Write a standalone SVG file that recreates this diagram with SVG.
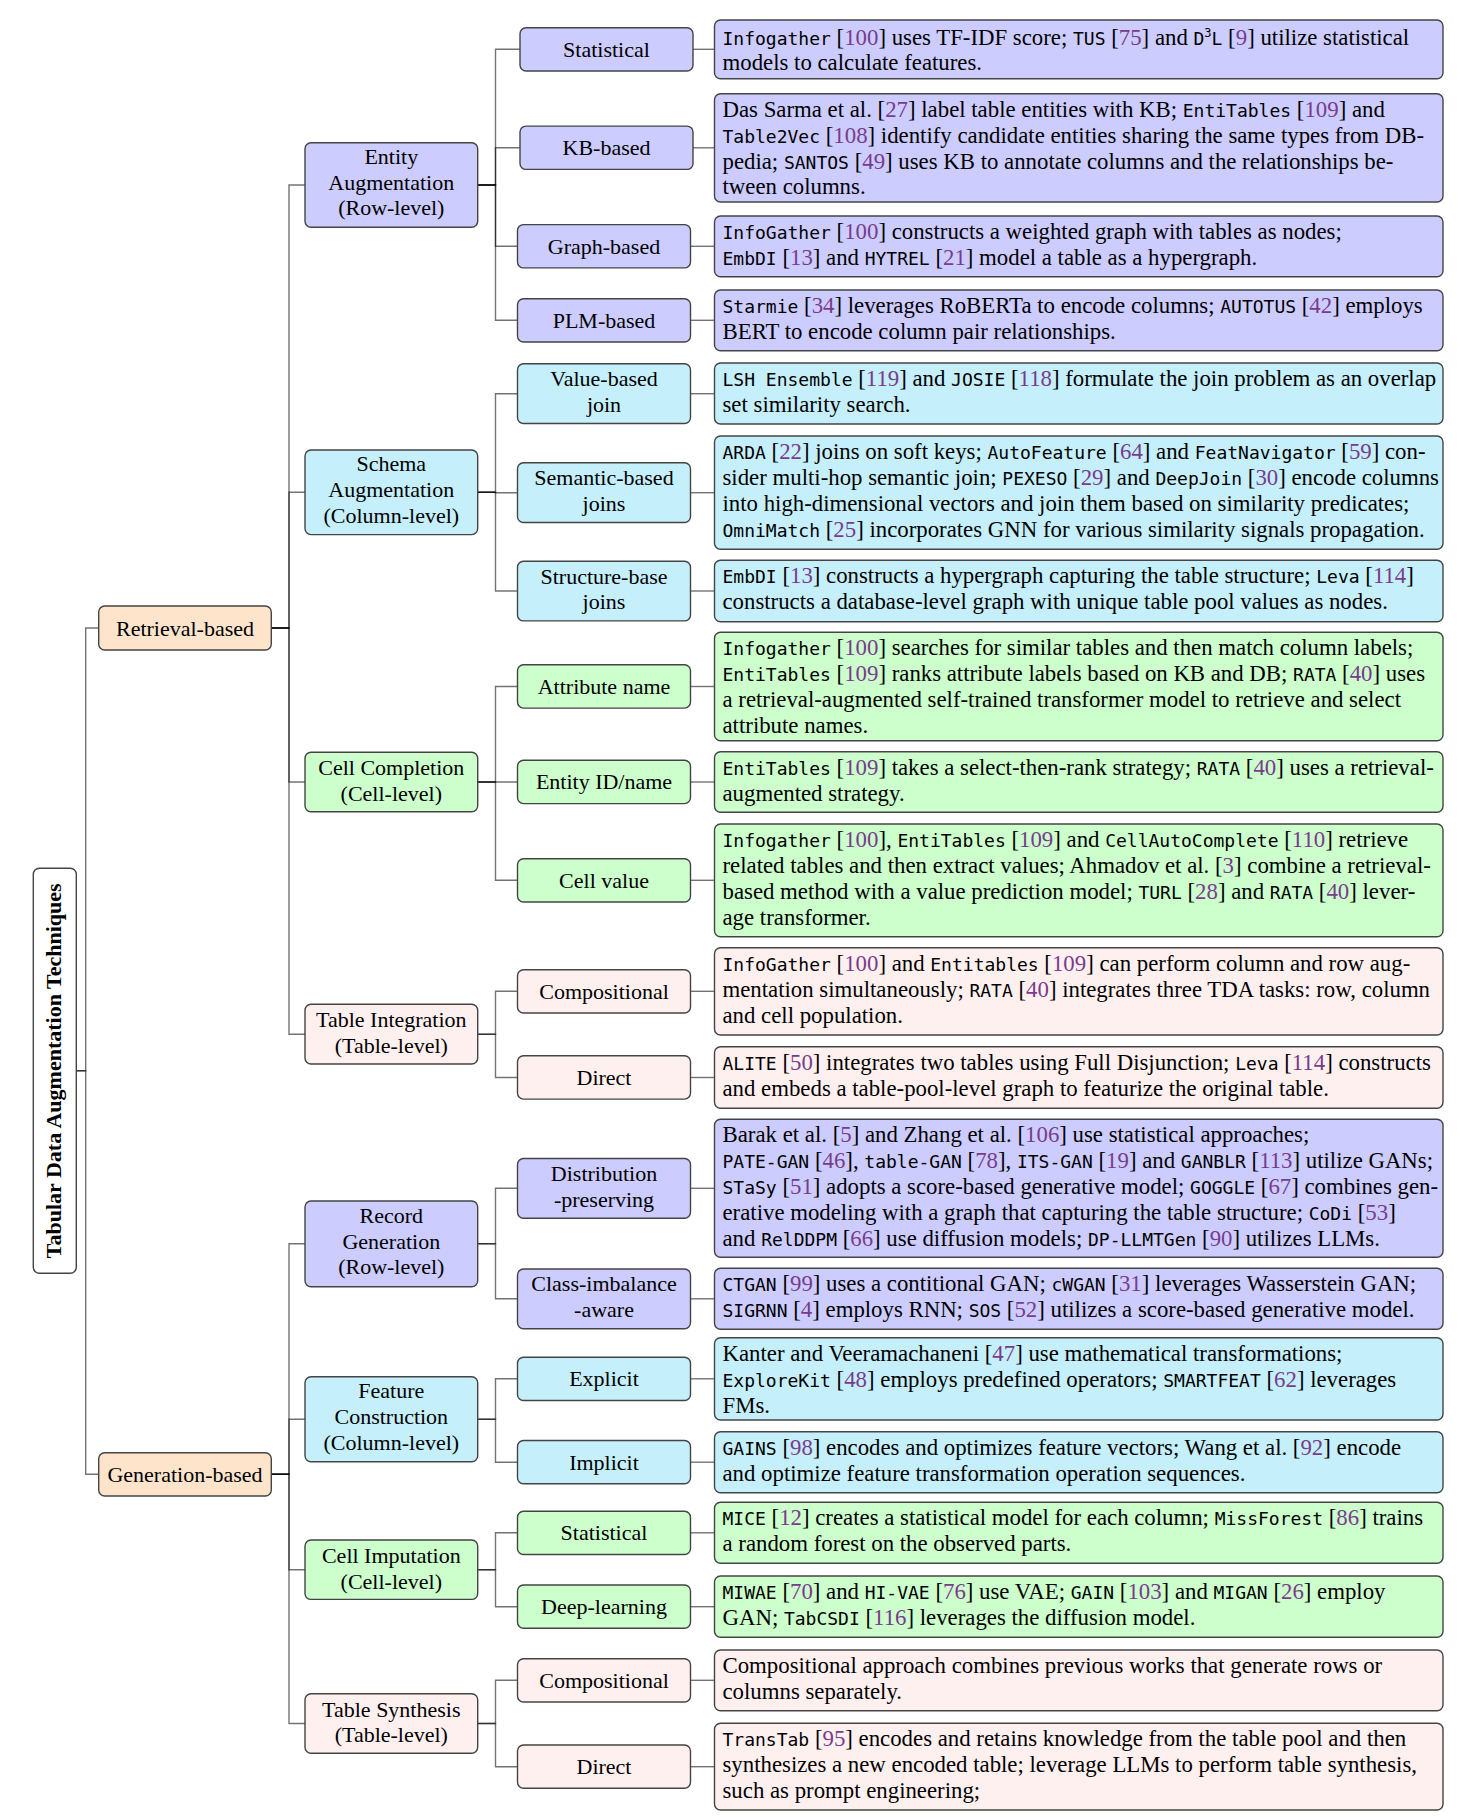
<svg xmlns="http://www.w3.org/2000/svg" width="1463" height="1817" viewBox="0 0 1463 1817">
<style>
text{font-family:"Liberation Serif","Times New Roman",serif;font-size:22px;fill:#000}
g.desc text{font-size:22.8px}
.lbl{text-anchor:middle}
.m{font-family:"DejaVu Sans Mono","Liberation Mono",monospace;font-size:18px}
.c{fill:#783c8c}
.sup{font-size:12px}
rect{stroke:#444;stroke-width:1.4}
.pu{fill:#ccccff}.cy{fill:#c5effb}.gr{fill:#ccffcc}.pk{fill:#fff0f0}.or{fill:#ffe4cc}.wh{fill:#fff}
#connectors path{fill:none;stroke:#000;stroke-opacity:0.55;stroke-width:1.4}
</style>
<rect width="1463" height="1817" style="fill:#fff;stroke:none"/>
<g id="connectors">
<path d="M76.3,1070.8H85.7V628H98.7"/>
<path d="M76.3,1070.8H85.7V1474.3H98.7"/>
<path d="M271.3,628H289V185H305"/>
<path d="M271.3,628H289V492.3H305"/>
<path d="M271.3,628H289V782H305"/>
<path d="M271.3,628H289V1034.2H305"/>
<path d="M271.3,1474.3H289V1243.8H305"/>
<path d="M271.3,1474.3H289V1419.2H305"/>
<path d="M271.3,1474.3H289V1569.7H305"/>
<path d="M271.3,1474.3H289V1723.5H305"/>
<path d="M477.7,185H495.5V49.3H520"/>
<path d="M477.7,185H495.5V147.8H520"/>
<path d="M477.7,185H495.5V246.3H517.5"/>
<path d="M477.7,185H495.5V320.3H517.5"/>
<path d="M477.7,492.3H495.5V393.7H517.5"/>
<path d="M477.7,492.3H495.5V492.7H517.5"/>
<path d="M477.7,492.3H495.5V591H517.5"/>
<path d="M477.7,782H495.5V686.5H517.5"/>
<path d="M477.7,782H495.5V782H517.5"/>
<path d="M477.7,782H495.5V880.3H517.5"/>
<path d="M477.7,1034.2H495.5V991.3H517.5"/>
<path d="M477.7,1034.2H495.5V1077.5H517.5"/>
<path d="M477.7,1243.8H495.5V1188.3H517.5"/>
<path d="M477.7,1243.8H495.5V1298.8H517.5"/>
<path d="M477.7,1419.2H495.5V1378.8H517.5"/>
<path d="M477.7,1419.2H495.5V1462.2H517.5"/>
<path d="M477.7,1569.7H495.5V1532.8H517.5"/>
<path d="M477.7,1569.7H495.5V1606.7H517.5"/>
<path d="M477.7,1723.5H495.5V1680.3H517.5"/>
<path d="M477.7,1723.5H495.5V1766.7H517.5"/>
<path d="M693,49.3H714.5"/>
<path d="M693,147.8H714.5"/>
<path d="M690.5,246.3H714.5"/>
<path d="M690.5,320.3H714.5"/>
<path d="M690.5,393.7H714.5"/>
<path d="M690.5,492.7H714.5"/>
<path d="M690.5,591H714.5"/>
<path d="M690.5,686.5H714.5"/>
<path d="M690.5,782H714.5"/>
<path d="M690.5,880.3H714.5"/>
<path d="M690.5,991.3H714.5"/>
<path d="M690.5,1077.5H714.5"/>
<path d="M690.5,1188.3H714.5"/>
<path d="M690.5,1298.8H714.5"/>
<path d="M690.5,1378.8H714.5"/>
<path d="M690.5,1462.2H714.5"/>
<path d="M690.5,1532.8H714.5"/>
<path d="M690.5,1606.7H714.5"/>
<path d="M690.5,1680.3H714.5"/>
<path d="M690.5,1766.7H714.5"/>
</g>

<g id="root"><rect class="wh" x="33.3" y="868.3" width="43" height="405" rx="6"/><text class="lbl" style="font-weight:bold" transform="translate(61,1070.8) rotate(-90)">Tabular Data Augmentation Techniques</text></g>

<g id="retrieval"><rect class="or" x="98.7" y="606" width="172.6" height="44" rx="6"/><text class="lbl" x="185" y="636">Retrieval-based</text></g>
<g id="generation"><rect class="or" x="98.7" y="1452.7" width="172.6" height="43.3" rx="6"/><text class="lbl" x="185" y="1482">Generation-based</text></g>

<g id="entity-aug"><rect class="pu" x="305" y="142.7" width="172.7" height="84.6" rx="6"/><text class="lbl" x="391.3" y="164">Entity</text><text class="lbl" x="391.3" y="189.7">Augmentation</text><text class="lbl" x="391.3" y="215.4">(Row-level)</text></g>
<g id="schema-aug"><rect class="cy" x="305" y="450" width="172.7" height="84.6" rx="6"/><text class="lbl" x="391.3" y="471.3">Schema</text><text class="lbl" x="391.3" y="497">Augmentation</text><text class="lbl" x="391.3" y="522.7">(Column-level)</text></g>
<g id="cell-completion"><rect class="gr" x="305" y="752.3" width="172.7" height="59.4" rx="6"/><text class="lbl" x="391.3" y="775">Cell Completion</text><text class="lbl" x="391.3" y="800.9">(Cell-level)</text></g>
<g id="table-integration"><rect class="pk" x="305" y="1004.3" width="172.7" height="59.7" rx="6"/><text class="lbl" x="391.3" y="1027.2">Table Integration</text><text class="lbl" x="391.3" y="1053.1">(Table-level)</text></g>
<g id="record-generation"><rect class="pu" x="305" y="1201" width="172.7" height="85.7" rx="6"/><text class="lbl" x="391.3" y="1222.8">Record</text><text class="lbl" x="391.3" y="1248.5">Generation</text><text class="lbl" x="391.3" y="1274.2">(Row-level)</text></g>
<g id="feature-construction"><rect class="cy" x="305" y="1376.7" width="172.7" height="85" rx="6"/><text class="lbl" x="391.3" y="1398.2">Feature</text><text class="lbl" x="391.3" y="1423.9">Construction</text><text class="lbl" x="391.3" y="1449.6">(Column-level)</text></g>
<g id="cell-imputation"><rect class="gr" x="305" y="1540" width="172.7" height="59.4" rx="6"/><text class="lbl" x="391.3" y="1562.7">Cell Imputation</text><text class="lbl" x="391.3" y="1588.6">(Cell-level)</text></g>
<g id="table-synthesis"><rect class="pk" x="305" y="1693.8" width="172.7" height="59.4" rx="6"/><text class="lbl" x="391.3" y="1716.5">Table Synthesis</text><text class="lbl" x="391.3" y="1742.4">(Table-level)</text></g>

<g id="n-statistical-1"><rect class="pu" x="520" y="27.7" width="173" height="43.3" rx="6"/><text class="lbl" x="606.5" y="56.7">Statistical</text></g>
<g id="n-kb"><rect class="pu" x="520" y="126.1" width="173" height="43.3" rx="6"/><text class="lbl" x="606.5" y="155.2">KB-based</text></g>
<g id="n-graph"><rect class="pu" x="517.5" y="224.6" width="173" height="43.3" rx="6"/><text class="lbl" x="604" y="253.7">Graph-based</text></g>
<g id="n-plm"><rect class="pu" x="517.5" y="298.7" width="173" height="43.3" rx="6"/><text class="lbl" x="604" y="327.7">PLM-based</text></g>
<g id="n-value-join"><rect class="cy" x="517.5" y="363.8" width="173" height="59.7" rx="6"/><text class="lbl" x="604" y="386.2">Value-based</text><text class="lbl" x="604" y="412.1">join</text></g>
<g id="n-semantic-join"><rect class="cy" x="517.5" y="462.8" width="173" height="59.7" rx="6"/><text class="lbl" x="604" y="485.2">Semantic-based</text><text class="lbl" x="604" y="511.1">joins</text></g>
<g id="n-structure-join"><rect class="cy" x="517.5" y="561.2" width="173" height="59.7" rx="6"/><text class="lbl" x="604" y="583.5">Structure-base</text><text class="lbl" x="604" y="609.4">joins</text></g>
<g id="n-attribute"><rect class="gr" x="517.5" y="664.8" width="173" height="43.3" rx="6"/><text class="lbl" x="604" y="693.9">Attribute name</text></g>
<g id="n-entity-id"><rect class="gr" x="517.5" y="760.3" width="173" height="43.3" rx="6"/><text class="lbl" x="604" y="789.4">Entity ID/name</text></g>
<g id="n-cell-value"><rect class="gr" x="517.5" y="858.7" width="173" height="43.3" rx="6"/><text class="lbl" x="604" y="887.7">Cell value</text></g>
<g id="n-compositional-1"><rect class="pk" x="517.5" y="969.7" width="173" height="43.3" rx="6"/><text class="lbl" x="604" y="998.7">Compositional</text></g>
<g id="n-direct-1"><rect class="pk" x="517.5" y="1055.8" width="173" height="43.3" rx="6"/><text class="lbl" x="604" y="1084.9">Direct</text></g>
<g id="n-distribution"><rect class="pu" x="517.5" y="1158.5" width="173" height="59.7" rx="6"/><text class="lbl" x="604" y="1180.8">Distribution</text><text class="lbl" x="604" y="1206.7">-preserving</text></g>
<g id="n-class-imbalance"><rect class="pu" x="517.5" y="1269" width="173" height="59.7" rx="6"/><text class="lbl" x="604" y="1291.3">Class-imbalance</text><text class="lbl" x="604" y="1317.2">-aware</text></g>
<g id="n-explicit"><rect class="cy" x="517.5" y="1357.2" width="173" height="43.3" rx="6"/><text class="lbl" x="604" y="1386.2">Explicit</text></g>
<g id="n-implicit"><rect class="cy" x="517.5" y="1440.5" width="173" height="43.3" rx="6"/><text class="lbl" x="604" y="1469.6">Implicit</text></g>
<g id="n-statistical-2"><rect class="gr" x="517.5" y="1511.2" width="173" height="43.3" rx="6"/><text class="lbl" x="604" y="1540.2">Statistical</text></g>
<g id="n-deep-learning"><rect class="gr" x="517.5" y="1585" width="173" height="43.3" rx="6"/><text class="lbl" x="604" y="1614.1">Deep-learning</text></g>
<g id="n-compositional-2"><rect class="pk" x="517.5" y="1658.7" width="173" height="43.3" rx="6"/><text class="lbl" x="604" y="1687.7">Compositional</text></g>
<g id="n-direct-2"><rect class="pk" x="517.5" y="1745" width="173" height="43.3" rx="6"/><text class="lbl" x="604" y="1774.1">Direct</text></g>

<g id="d-statistical-1" class="desc"><rect class="pu" x="714.5" y="20" width="728.5" height="58.7" rx="6"/>
<text x="722.5" y="44.5"><tspan class="m">Infogather</tspan> [<tspan class="c">100</tspan>] uses TF-IDF score; <tspan class="m">TUS</tspan> [<tspan class="c">75</tspan>] and <tspan class="m">D<tspan class="sup" dy="-8">3</tspan><tspan dy="8">L</tspan></tspan> [<tspan class="c">9</tspan>] utilize statistical</text>
<text x="722.5" y="70.4">models to calculate features.</text></g>

<g id="d-kb" class="desc"><rect class="pu" x="714.5" y="93.7" width="728.5" height="108.3" rx="6"/>
<text x="722.5" y="116.7">Das Sarma et al. [<tspan class="c">27</tspan>] label table entities with KB; <tspan class="m">EntiTables</tspan> [<tspan class="c">109</tspan>] and</text>
<text x="722.5" y="142.6"><tspan class="m">Table2Vec</tspan> [<tspan class="c">108</tspan>] identify candidate entities sharing the same types from DB-</text>
<text x="722.5" y="168.5">pedia; <tspan class="m">SANTOS</tspan> [<tspan class="c">49</tspan>] uses KB to annotate columns and the relationships be-</text>
<text x="722.5" y="194.4">tween columns.</text></g>

<g id="d-graph" class="desc"><rect class="pu" x="714.5" y="216" width="728.5" height="60.7" rx="6"/>
<text x="722.5" y="239"><tspan class="m">InfoGather</tspan> [<tspan class="c">100</tspan>] constructs a weighted graph with tables as nodes;</text>
<text x="722.5" y="264.9"><tspan class="m">EmbDI</tspan> [<tspan class="c">13</tspan>] and <tspan class="m">HYTREL</tspan> [<tspan class="c">21</tspan>] model a table as a hypergraph.</text></g>

<g id="d-plm" class="desc"><rect class="pu" x="714.5" y="290" width="728.5" height="60.7" rx="6"/>
<text x="722.5" y="313"><tspan class="m">Starmie</tspan> [<tspan class="c">34</tspan>] leverages RoBERTa to encode columns; <tspan class="m">AUTOTUS</tspan> [<tspan class="c">42</tspan>] employs</text>
<text x="722.5" y="338.9">BERT to encode column pair relationships.</text></g>

<g id="d-value-join" class="desc"><rect class="cy" x="714.5" y="363" width="728.5" height="61" rx="6"/>
<text x="722.5" y="386"><tspan class="m">LSH Ensemble</tspan> [<tspan class="c">119</tspan>] and <tspan class="m">JOSIE</tspan> [<tspan class="c">118</tspan>] formulate the join problem as an overlap</text>
<text x="722.5" y="411.9">set similarity search.</text></g>

<g id="d-semantic-join" class="desc"><rect class="cy" x="714.5" y="436" width="728.5" height="113.3" rx="6"/>
<text x="722.5" y="459"><tspan class="m">ARDA</tspan> [<tspan class="c">22</tspan>] joins on soft keys; <tspan class="m">AutoFeature</tspan> [<tspan class="c">64</tspan>] and <tspan class="m">FeatNavigator</tspan> [<tspan class="c">59</tspan>] con-</text>
<text x="722.5" y="484.9">sider multi-hop semantic join; <tspan class="m">PEXESO</tspan> [<tspan class="c">29</tspan>] and <tspan class="m">DeepJoin</tspan> [<tspan class="c">30</tspan>] encode columns</text>
<text x="722.5" y="510.8">into high-dimensional vectors and join them based on similarity predicates;</text>
<text x="722.5" y="536.7"><tspan class="m">OmniMatch</tspan> [<tspan class="c">25</tspan>] incorporates GNN for various similarity signals propagation.</text></g>

<g id="d-structure-join" class="desc"><rect class="cy" x="714.5" y="560.3" width="728.5" height="61.4" rx="6"/>
<text x="722.5" y="583.3"><tspan class="m">EmbDI</tspan> [<tspan class="c">13</tspan>] constructs a hypergraph capturing the table structure; <tspan class="m">Leva</tspan> [<tspan class="c">114</tspan>]</text>
<text x="722.5" y="609.2">constructs a database-level graph with unique table pool values as nodes.</text></g>

<g id="d-attribute" class="desc"><rect class="gr" x="714.5" y="632.3" width="728.5" height="108.4" rx="6"/>
<text x="722.5" y="655.3"><tspan class="m">Infogather</tspan> [<tspan class="c">100</tspan>] searches for similar tables and then match column labels;</text>
<text x="722.5" y="681.2"><tspan class="m">EntiTables</tspan> [<tspan class="c">109</tspan>] ranks attribute labels based on KB and DB; <tspan class="m">RATA</tspan> [<tspan class="c">40</tspan>] uses</text>
<text x="722.5" y="707.1">a retrieval-augmented self-trained transformer model to retrieve and select</text>
<text x="722.5" y="733">attribute names.</text></g>

<g id="d-entity-id" class="desc"><rect class="gr" x="714.5" y="751.7" width="728.5" height="60.6" rx="6"/>
<text x="722.5" y="774.7"><tspan class="m">EntiTables</tspan> [<tspan class="c">109</tspan>] takes a select-then-rank strategy; <tspan class="m">RATA</tspan> [<tspan class="c">40</tspan>] uses a retrieval-</text>
<text x="722.5" y="800.6">augmented strategy.</text></g>

<g id="d-cell-value" class="desc"><rect class="gr" x="714.5" y="824" width="728.5" height="112.7" rx="6"/>
<text x="722.5" y="847"><tspan class="m">Infogather</tspan> [<tspan class="c">100</tspan>], <tspan class="m">EntiTables</tspan> [<tspan class="c">109</tspan>] and <tspan class="m">CellAutoComplete</tspan> [<tspan class="c">110</tspan>] retrieve</text>
<text x="722.5" y="872.9">related tables and then extract values; Ahmadov et al. [<tspan class="c">3</tspan>] combine a retrieval-</text>
<text x="722.5" y="898.8">based method with a value prediction model; <tspan class="m">TURL</tspan> [<tspan class="c">28</tspan>] and <tspan class="m">RATA</tspan> [<tspan class="c">40</tspan>] lever-</text>
<text x="722.5" y="924.7">age transformer.</text></g>

<g id="d-compositional-1" class="desc"><rect class="pk" x="714.5" y="947.7" width="728.5" height="87.3" rx="6"/>
<text x="722.5" y="970.7"><tspan class="m">InfoGather</tspan> [<tspan class="c">100</tspan>] and <tspan class="m">Entitables</tspan> [<tspan class="c">109</tspan>] can perform column and row aug-</text>
<text x="722.5" y="996.6">mentation simultaneously; <tspan class="m">RATA</tspan> [<tspan class="c">40</tspan>] integrates three TDA tasks: row, column</text>
<text x="722.5" y="1022.5">and cell population.</text></g>

<g id="d-direct-1" class="desc"><rect class="pk" x="714.5" y="1046.7" width="728.5" height="61.6" rx="6"/>
<text x="722.5" y="1069.7"><tspan class="m">ALITE</tspan> [<tspan class="c">50</tspan>] integrates two tables using Full Disjunction; <tspan class="m">Leva</tspan> [<tspan class="c">114</tspan>] constructs</text>
<text x="722.5" y="1095.6">and embeds a table-pool-level graph to featurize the original table.</text></g>

<g id="d-distribution" class="desc"><rect class="pu" x="714.5" y="1119.3" width="728.5" height="138" rx="6"/>
<text x="722.5" y="1142.3">Barak et al. [<tspan class="c">5</tspan>] and Zhang et al. [<tspan class="c">106</tspan>] use statistical approaches;</text>
<text x="722.5" y="1168.2"><tspan class="m">PATE-GAN</tspan> [<tspan class="c">46</tspan>], <tspan class="m">table-GAN</tspan> [<tspan class="c">78</tspan>], <tspan class="m">ITS-GAN</tspan> [<tspan class="c">19</tspan>] and <tspan class="m">GANBLR</tspan> [<tspan class="c">113</tspan>] utilize GANs;</text>
<text x="722.5" y="1194.1"><tspan class="m">STaSy</tspan> [<tspan class="c">51</tspan>] adopts a score-based generative model; <tspan class="m">GOGGLE</tspan> [<tspan class="c">67</tspan>] combines gen-</text>
<text x="722.5" y="1220">erative modeling with a graph that capturing the table structure; <tspan class="m">CoDi</tspan> [<tspan class="c">53</tspan>]</text>
<text x="722.5" y="1245.9">and <tspan class="m">RelDDPM</tspan> [<tspan class="c">66</tspan>] use diffusion models; <tspan class="m">DP-LLMTGen</tspan> [<tspan class="c">90</tspan>] utilizes LLMs.</text></g>

<g id="d-class-imbalance" class="desc"><rect class="pu" x="714.5" y="1268.3" width="728.5" height="61" rx="6"/>
<text x="722.5" y="1291.3"><tspan class="m">CTGAN</tspan> [<tspan class="c">99</tspan>] uses a contitional GAN; <tspan class="m">cWGAN</tspan> [<tspan class="c">31</tspan>] leverages Wasserstein GAN;</text>
<text x="722.5" y="1317.2"><tspan class="m">SIGRNN</tspan> [<tspan class="c">4</tspan>] employs RNN; <tspan class="m">SOS</tspan> [<tspan class="c">52</tspan>] utilizes a score-based generative model.</text></g>

<g id="d-explicit" class="desc"><rect class="cy" x="714.5" y="1337.7" width="728.5" height="82.3" rx="6"/>
<text x="722.5" y="1360.7">Kanter and Veeramachaneni [<tspan class="c">47</tspan>] use mathematical transformations;</text>
<text x="722.5" y="1386.6"><tspan class="m">ExploreKit</tspan> [<tspan class="c">48</tspan>] employs predefined operators; <tspan class="m">SMARTFEAT</tspan> [<tspan class="c">62</tspan>] leverages</text>
<text x="722.5" y="1412.5">FMs.</text></g>

<g id="d-implicit" class="desc"><rect class="cy" x="714.5" y="1431.7" width="728.5" height="61" rx="6"/>
<text x="722.5" y="1454.7"><tspan class="m">GAINS</tspan> [<tspan class="c">98</tspan>] encodes and optimizes feature vectors; Wang et al. [<tspan class="c">92</tspan>] encode</text>
<text x="722.5" y="1480.6">and optimize feature transformation operation sequences.</text></g>

<g id="d-statistical-2" class="desc"><rect class="gr" x="714.5" y="1502.3" width="728.5" height="61" rx="6"/>
<text x="722.5" y="1525.3"><tspan class="m">MICE</tspan> [<tspan class="c">12</tspan>] creates a statistical model for each column; <tspan class="m">MissForest</tspan> [<tspan class="c">86</tspan>] trains</text>
<text x="722.5" y="1551.2">a random forest on the observed parts.</text></g>

<g id="d-deep-learning" class="desc"><rect class="gr" x="714.5" y="1576" width="728.5" height="61.3" rx="6"/>
<text x="722.5" y="1599"><tspan class="m">MIWAE</tspan> [<tspan class="c">70</tspan>] and <tspan class="m">HI-VAE</tspan> [<tspan class="c">76</tspan>] use VAE; <tspan class="m">GAIN</tspan> [<tspan class="c">103</tspan>] and <tspan class="m">MIGAN</tspan> [<tspan class="c">26</tspan>] employ</text>
<text x="722.5" y="1624.9">GAN; <tspan class="m">TabCSDI</tspan> [<tspan class="c">116</tspan>] leverages the diffusion model.</text></g>

<g id="d-compositional-2" class="desc"><rect class="pk" x="714.5" y="1650" width="728.5" height="60.7" rx="6"/>
<text x="722.5" y="1673">Compositional approach combines previous works that generate rows or</text>
<text x="722.5" y="1698.9">columns separately.</text></g>

<g id="d-direct-2" class="desc"><rect class="pk" x="714.5" y="1723.3" width="728.5" height="86.7" rx="6"/>
<text x="722.5" y="1746.3"><tspan class="m">TransTab</tspan> [<tspan class="c">95</tspan>] encodes and retains knowledge from the table pool and then</text>
<text x="722.5" y="1772.2">synthesizes a new encoded table; leverage LLMs to perform table synthesis,</text>
<text x="722.5" y="1798.1">such as prompt engineering;</text></g>
</svg>
